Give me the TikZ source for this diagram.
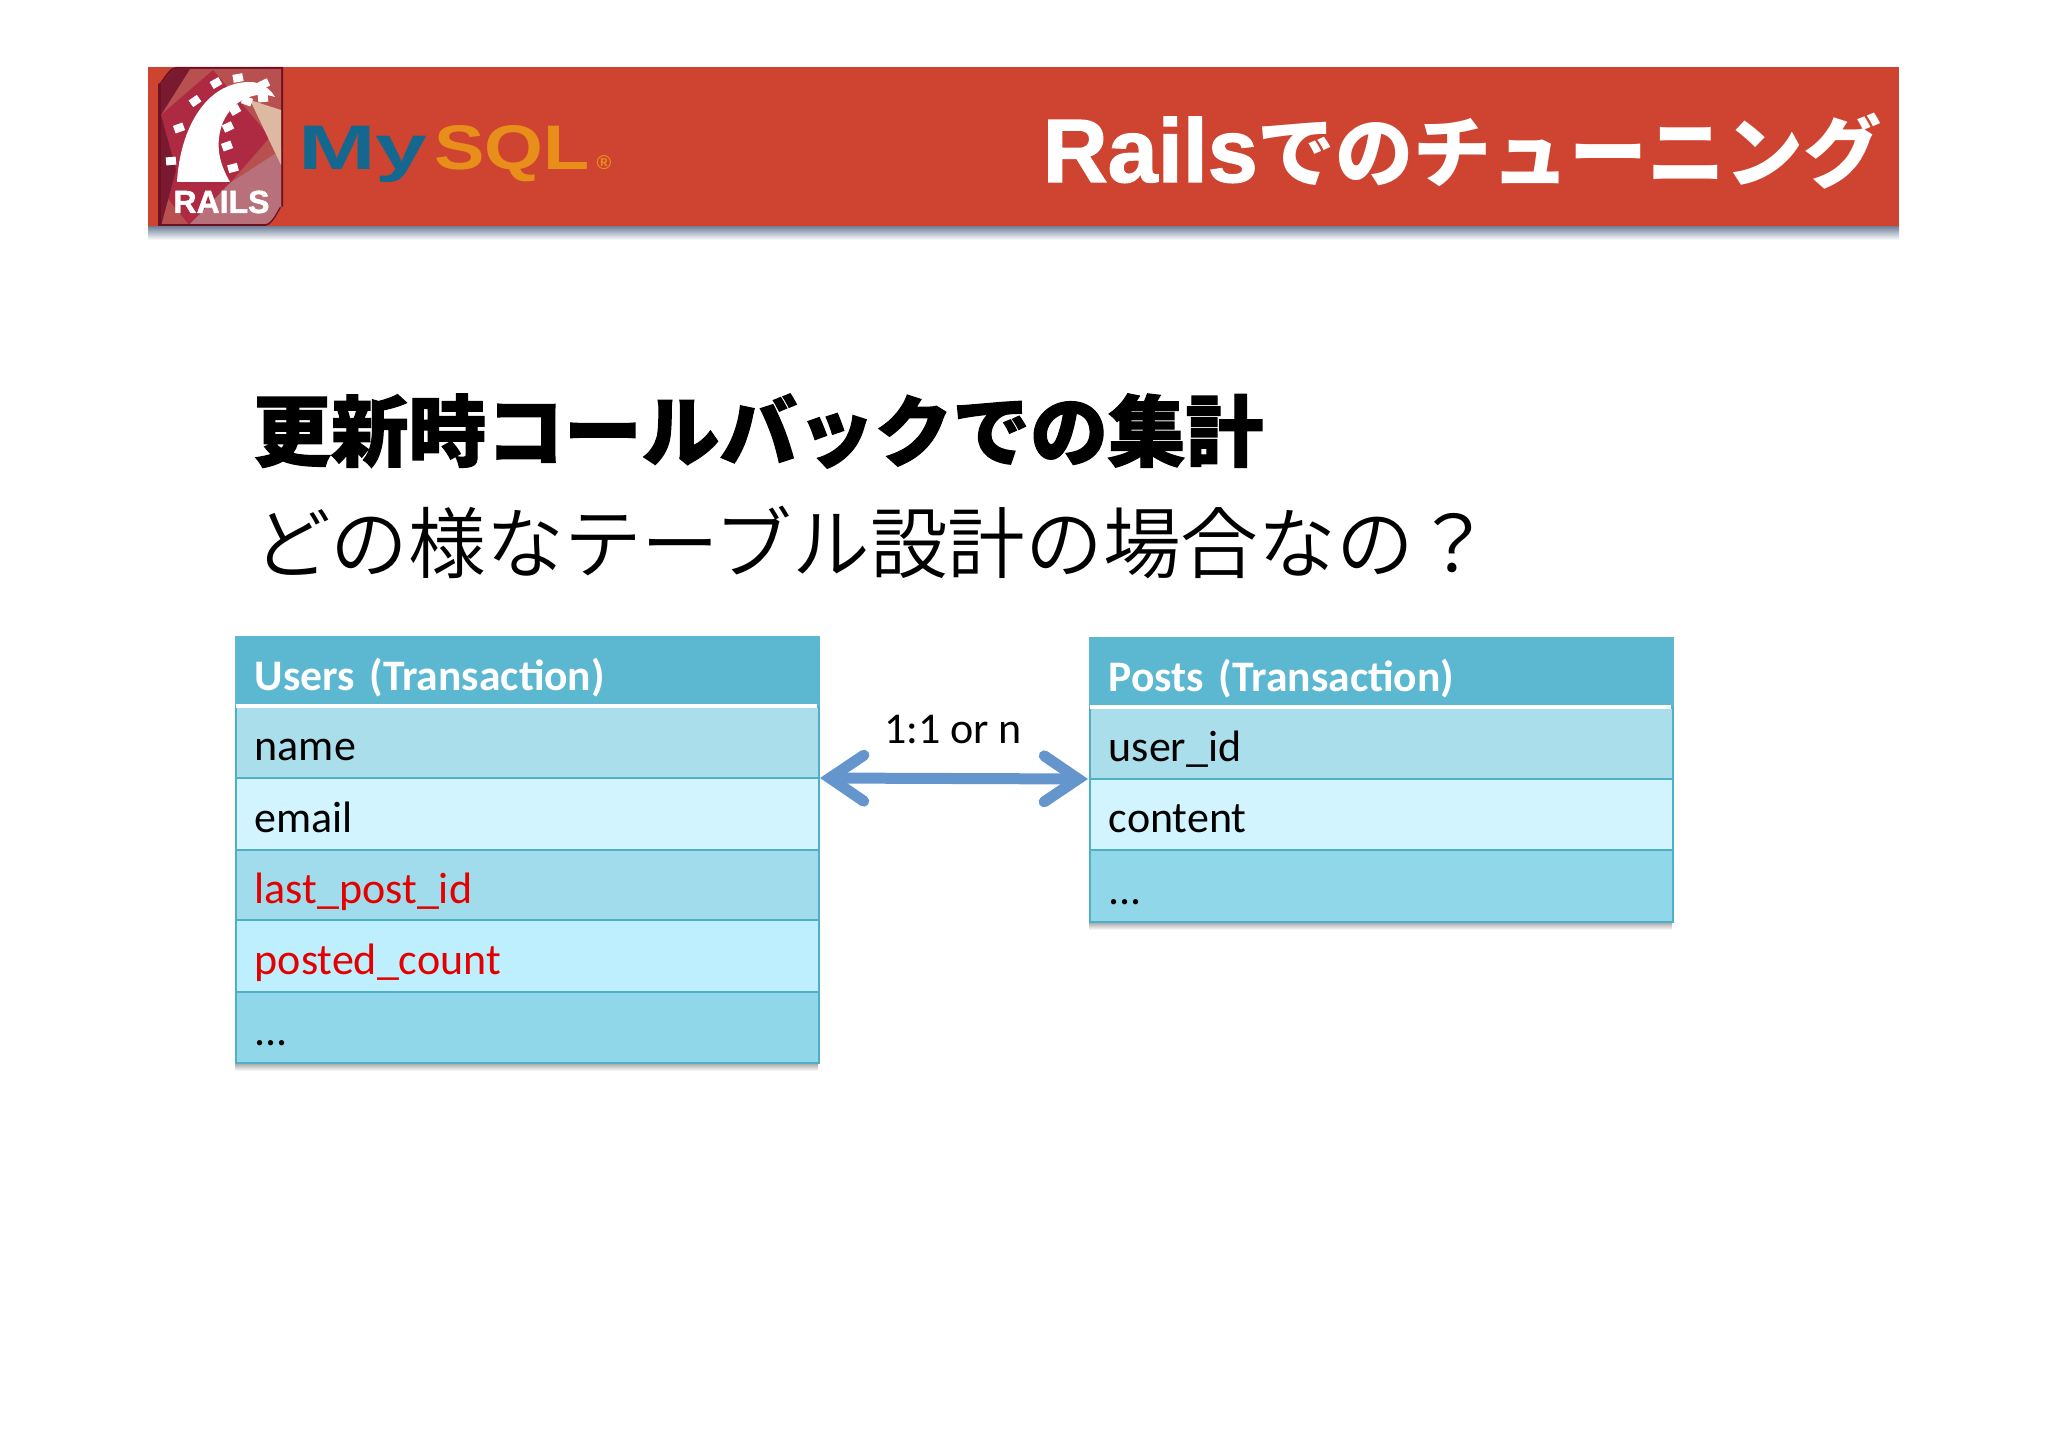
\documentclass[tikz,border=0pt]{standalone}
\usepackage{fontspec}
\setmainfont{Carlito}
\newfontfamily\jpb[FakeBold=1.5]{Noto Sans CJK JP Black}
\newfontfamily\jpt{Noto Sans CJK JP Black}
\newfontfamily\jpl{Noto Sans CJK JP DemiLight}
\newfontfamily\wide{Liberation Sans}
\newfontfamily\wideh[FakeBold=1.5]{Liberation Sans Bold}
\usetikzlibrary{arrows.meta,calc}
\definecolor{hdr}{HTML}{CE4430}
\definecolor{tb}{HTML}{5CB8D1}
\definecolor{rowA}{HTML}{ABDEEB}
\definecolor{rowB}{HTML}{D2F4FE}
\definecolor{rowC}{HTML}{A0DCEB}
\definecolor{rowD}{HTML}{BDEFFE}
\definecolor{rowE}{HTML}{90D8E9}
\definecolor{tline}{HTML}{4FAFC6}
\definecolor{arr}{HTML}{6495CC}
\definecolor{mysqlblue}{HTML}{14688F}
\definecolor{mysqlor}{HTML}{E88E1A}
\definecolor{lgA}{HTML}{AD2A42}
\definecolor{lgB}{HTML}{B85050}
\definecolor{lgC}{HTML}{DDB9A2}
\definecolor{lgD}{HTML}{7A1A30}
\definecolor{lgE}{HTML}{6E1020}
\definecolor{lgF}{HTML}{B8707A}
\definecolor{shd}{HTML}{6F7F98}
\tikzset{
 x=1pt,y=-1pt,
 cell/.style={minimum width=583pt,minimum height=71pt,anchor=north west,inner sep=0pt,draw=tline,line width=1.5pt,text width=545pt,align=left,font=\fontsize{44}{44}\selectfont,text height=42pt,text depth=5pt},
 hcell/.style={cell,fill=tb,text=white,font=\fontsize{43.6}{44}\selectfont\bfseries,draw=tb,text height=42pt,text depth=5pt},
 redtext/.style={text=red!90!black},
 tshadow/.style={top color=black!40,bottom color=white,draw=none}
}
\begin{document}
\begin{tikzpicture}
\useasboundingbox (0,0) rectangle (2048,1447);
% header
\shade[top color=shd,bottom color=white] (148,226) rectangle (1899,240);
\node[minimum width=1751pt,minimum height=159pt,anchor=north west,inner sep=0pt,fill=hdr] (band) at (148,67) {};
\node[anchor=base east,text=white,inner sep=0pt,font=\jpt\fontsize{78}{78}\selectfont] (title) at (1882,182) {{\wideh\fontsize{90}{90}\selectfont Rails}でのチューニング};
% logo
\begin{scope}
\fill[lgE] (158,82) to[out=270,in=180] (176,67) -- (283,67) -- (283,208) to[out=90,in=0] (265,226) -- (158,226) -- cycle;
\clip (161,82) to[out=270,in=180] (176,69) -- (281,69) -- (281,208) to[out=90,in=0] (265,224) -- (161,224) -- cycle;
\fill[lgB] (158,67) rectangle (283,226);
\fill[lgA] (161,115) -- (213,70) -- (270,137) -- (230,183) -- (190,226) -- (161,190) -- cycle;
\fill[lgD] (161,69) -- (190,69) -- (161,115) -- cycle;
\fill[lgD] (161,115) -- (176,170) -- (161,226) -- cycle;
\fill[lgF] (230,183) -- (281,150) -- (281,224) -- (190,224) -- cycle;
\fill[lgC] (250,100) -- (281,110) -- (281,165) -- cycle;
\end{scope}
\fill[white] (177,182) .. controls (180,130) and (205,82) .. (250,82) .. controls (260,82) and (270,88) .. (275,97) .. controls (255,90) and (233,100) .. (223,122) .. controls (214,145) and (220,165) .. (230,182) -- cycle;
\foreach \a/\b/\r in {179/128/20,195/101/35,216/83/30,238/78/10,264/84/25,171/161/5,228/127/25,227/146/20,233/168/15,235/110/30,247/101/-20,263/98/5}
  \fill[white,rotate around={\r:(\a,\b)}] (\a-5,\b-4) rectangle (\a+5,\b+4);
\node[font=\wideh\fontsize{32}{32}\selectfont,text=white,inner sep=0pt,text height=23pt,text depth=0pt] (rails) at (221.5,201.5) {RAILS};
% mysql
\begin{scope}[shift={(298,170)},xscale=1.48]
\node[anchor=base west,inner sep=0pt,text=mysqlblue,font=\wide\bfseries\fontsize{63}{63}\selectfont,transform shape] (my) at (0,0) {My};
\end{scope}
\begin{scope}[shift={(434,170)},xscale=1.2]
\node[anchor=base west,inner sep=0pt,text=mysqlor,font=\wide\bfseries\fontsize{63}{63}\selectfont,transform shape] (sql) at (0,0) {SQL};
\end{scope}
\node[inner sep=0pt,text=mysqlor,font=\wide\bfseries\fontsize{20}{20}\selectfont] (reg) at (604,163) {®};
% headings
\node[anchor=west,inner sep=0pt,font=\jpb\fontsize{77.7}{78}\selectfont] (h1) at (253,431) {更新時コールバックでの集計};
\node[anchor=west,inner sep=0pt,font=\jpl\fontsize{77.7}{78}\selectfont] (h2) at (253,542) {どの様なテーブル設計の場合なの？};
% tables
\shade[tshadow] (235,1062) rectangle (818,1071);
\shade[tshadow] (1089,921) rectangle (1672,930);
\node[hcell,minimum height=70pt] (u0) at (235,636) {Users (Transaction)};
\node[cell,fill=rowA,minimum height=71pt] (u1) at (235,706) {name};
\node[cell,fill=rowB,minimum height=72pt] (u2) at (235,777) {email};
\node[cell,fill=rowC,minimum height=70pt,redtext] (u3) at (235,849) {last\_post\_id};
\node[cell,fill=rowD,minimum height=72pt,redtext] (u4) at (235,919) {posted\_count};
\node[cell,fill=rowE,minimum height=71pt] (u5) at (235,991) {...};
\draw[white,line width=4pt] (236,706) -- (817,706);
\node[hcell,minimum height=70pt] (p0) at (1089,637) {Posts (Transaction)};
\node[cell,fill=rowA,minimum height=71pt] (p1) at (1089,707) {user\_id};
\node[cell,fill=rowB,minimum height=71pt] (p2) at (1089,778) {content};
\node[cell,fill=rowE,minimum height=72pt] (p3) at (1089,849) {...};
\draw[white,line width=4pt] (1090,707) -- (1671,707);
% arrow
\coordinate (al) at (820,778);
\coordinate (ar) at (1088,779);
\draw[arr,line width=11pt,{Straight Barb[length=34pt,width=46pt,line cap=round]}-{Straight Barb[length=34pt,width=46pt,line cap=round]}] (al) -- (ar);
\node[font=\fontsize{44}{44}\selectfont,inner sep=0pt] (lbl) at (953,730) {1:1 or n};
\end{tikzpicture}
\end{document}
